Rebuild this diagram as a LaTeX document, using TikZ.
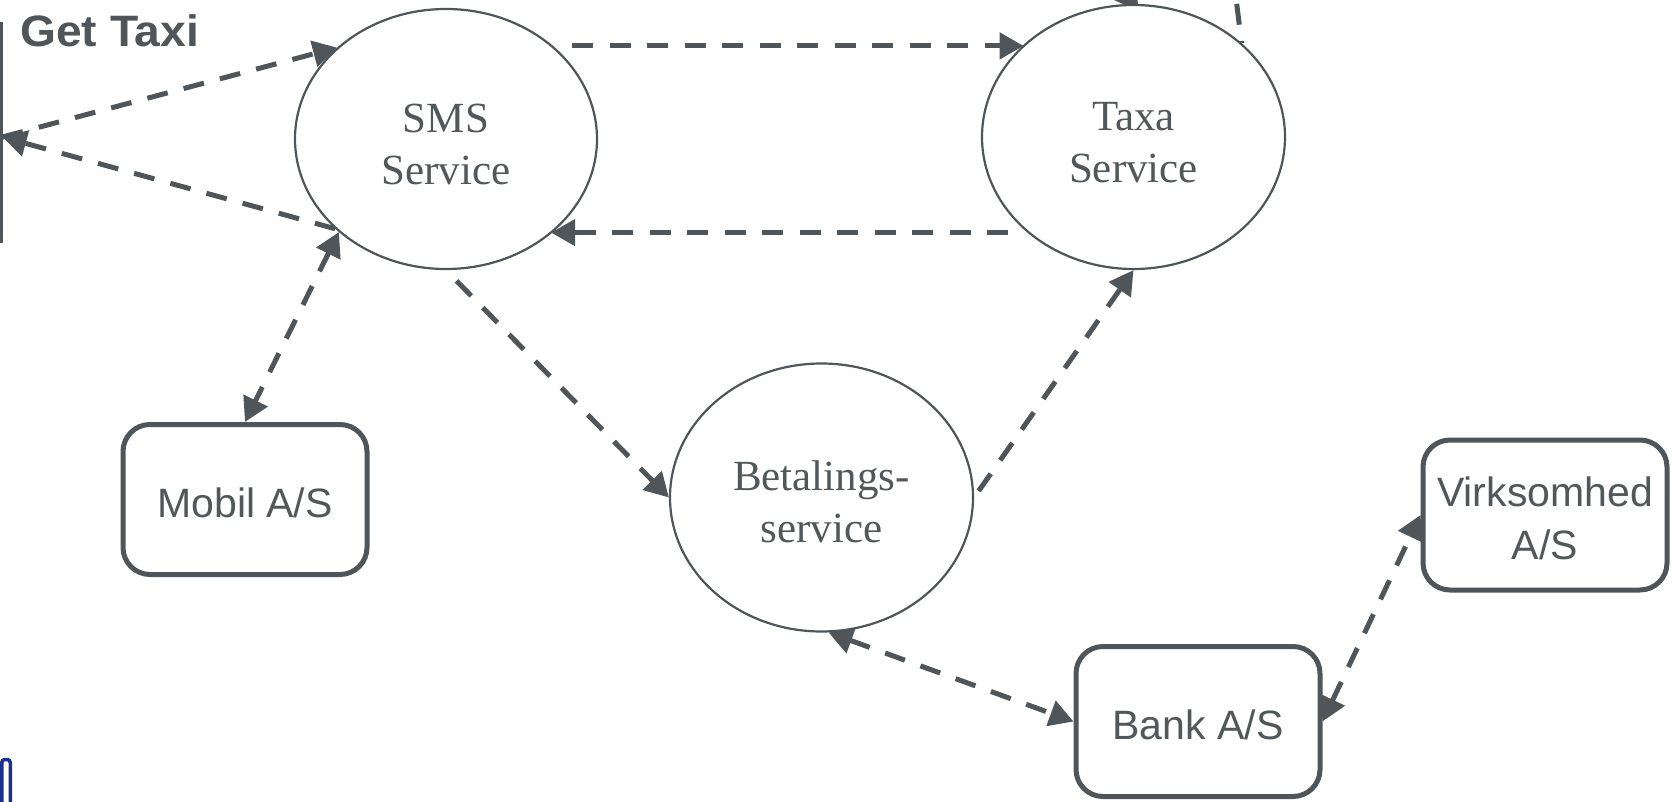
\documentclass[tikz,border=0pt]{standalone}
\usepackage{fontspec}
\setmainfont{Liberation Serif}
\newfontfamily\boxfont{Liberation Sans}
\usetikzlibrary{shapes.geometric,arrows.meta}
\definecolor{dg}{RGB}{80,85,89}
\definecolor{tg}{RGB}{82,87,90}
\definecolor{logoblue}{RGB}{28,48,140}
\pgfdeclarelayer{bg}
\pgfsetlayers{bg,main}
\newcommand{\upstrut}{\rule{0pt}{39pt}}
\newcommand{\boxstrut}{\rule{0pt}{36pt}}
\tikzset{
  svc/.style={ellipse, draw=dg, line width=2.2pt, fill=white, inner sep=0pt,
    text=tg, align=center, font=\fontsize{43}{52}\selectfont},
  org/.style={rectangle, rounded corners=27pt, draw=dg, line width=5pt, fill=white,
    minimum width=244pt, minimum height=150pt, inner sep=0pt, text=tg,
    align=center, font=\boxfont\fontsize{41}{53}\selectfont},
  titletext/.style={anchor=base west, inner sep=0pt, text=dg,
    font=\boxfont\bfseries\fontsize{44}{50}\selectfont},
  flow/.style={draw=dg, line width=5pt, dash pattern=on 21pt off 16.5pt},
}
\begin{document}
\begin{tikzpicture}[x=1pt,y=-1pt,>={Triangle[length=24pt,width=26pt]}]
\useasboundingbox (0,0) rectangle (1675,802);
\node[svc, minimum width=302pt, minimum height=260pt] (sms) at (446,139) {\upstrut SMS\\Service};
\node[svc, minimum width=303pt, minimum height=264pt] (taxa) at (1133.5,137) {\upstrut Taxa\\Service};
\node[svc, minimum width=303pt, minimum height=268pt] (bet) at (821.5,497.5) {\upstrut Betalings-\\service};
\node[org] (mobil) at (245,499.5) {\boxstrut Mobil A/S};
\node[org] (virk) at (1545,515) {\boxstrut Virksomhed\\A/S};
\node[org] (bank) at (1198,721.5) {\boxstrut Bank A/S};
\node[titletext] (title) at (20,47) {\scalebox{1.05}[1]{Get Taxi}};
\coordinate (actor) at (2.5,137);
\coordinate (topA) at (1065,-90);
\coordinate (topB) at (1235,-10);
\draw[logoblue, line width=3.5pt, rounded corners=3pt] (1.75,812) -- (1.75,759.5) -- (10.25,759.5) -- (10.25,812);
\begin{pgfonlayer}{bg}
\clip (0,0) rectangle (1675,802);
\draw[dg, line width=2.5pt] (1.25,22) -- (1.25,243);
\draw[flow,->] (actor) -- (sms.140);
\draw[flow,->] (sms.219) -- (actor);
\draw[flow,->,shorten <=19pt] (sms.41.3) -- (taxa.140.7 |- sms.41.3);
\draw[flow,->,shorten <=19pt] (taxa.222.7) -- (sms.318.7 |- taxa.222.7);
\draw[flow,<->] (sms.221.6) -- (mobil.north);
\draw[flow,->,shorten <=15pt] (sms.south) -- (bet.west);
\draw[flow,->,shorten <=8pt] (bet.east) -- (taxa.south);
\draw[flow,<->] (bet.273) -- (bank.west);
\draw[flow,<->] (bank.east) -- (virk.west);
\draw[flow,->,shorten >=-9pt] (topA) -- (taxa.north);
\draw[flow, dash phase=19pt] (taxa.41.4) -- (topB);
\end{pgfonlayer}
\end{tikzpicture}
\end{document}
